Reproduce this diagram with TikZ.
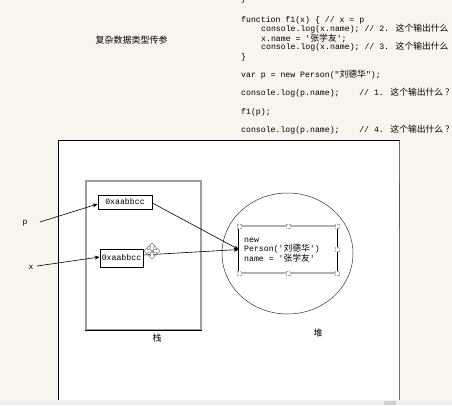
\documentclass[tikz,border=0pt]{standalone}
\usepackage{fontspec}
\usetikzlibrary{arrows.meta,shapes.geometric}
\newfontfamily\codefont{Liberation Mono}
\newfontfamily\cjkfont{Noto Sans CJK SC}
\newcommand{\zhtxt}[1]{{\cjkfont\fontsize{8.8}{9}\selectfont #1}}
\definecolor{bgpaper}{RGB}{247,245,238}
\definecolor{stripgray}{RGB}{240,240,240}
\definecolor{thumbgray}{RGB}{208,208,208}
\definecolor{edgegray}{RGB}{110,110,110}
\tikzset{
  code/.style={anchor=west, inner sep=0pt, font=\codefont\fontsize{8.2}{9}\selectfont},
  zh/.style={inner sep=0pt, font=\cjkfont\fontsize{9}{10}\selectfont},
  lbl/.style={inner sep=0pt, font=\codefont\fontsize{8}{9}\selectfont},
  addr/.style={draw=black, line width=0.7pt, fill=white, inner sep=0pt, font=\codefont\fontsize{8.2}{9}\selectfont},
  conn/.style={line width=0.6pt, -{Stealth[length=5pt,width=4pt]}},
  handle/.style={draw=gray!70, dash pattern=on 1pt off 0.6pt, fill=white, minimum size=4pt, inner sep=0pt, line width=0.4pt},
}
\begin{document}
\begin{tikzpicture}[x=1pt,y=-1pt]
\useasboundingbox (0,0) rectangle (452,405);
\fill[bgpaper] (0,0) rectangle (452,405);
% canvas
\fill[white] (58.5,140.5) rectangle (399.5,400);
\draw[black, line width=1pt] (58.5,400) -- (58.5,140.5) -- (399.5,140.5);
\draw[edgegray, line width=0.9pt] (399.5,140.5) -- (399.5,400);
\draw[edgegray!80!black, line width=1.4pt] (399.5,183) -- (399.5,228);
\fill[stripgray] (0,400) rectangle (452,405);
\fill[thumbgray] (384,400.6) rectangle (396,405);

% code
\node[code] (c0) at (241,-1) {\}};
\node[code] (c1) at (241,20) {function f1(x) \{ // x = p};
\node[code] (c2) at (261,29) {console.log(x.name); // 2. \zhtxt{这个输出什么}};
\node[code] (c3) at (261,38) {x.name = '\zhtxt{张学友}';};
\node[code] (c4) at (261,47) {console.log(x.name); // 3. \zhtxt{这个输出什么}};
\node[code] (c5) at (241,57) {\}};
\node[code] (c6) at (241,75) {var p = new Person("\zhtxt{刘德华}");};
\node[code] (c7) at (241,93) {console.log(p.name);\ \ \ \ // 1. \zhtxt{这个输出什么 ？}};
\node[code] (c8) at (241,112) {f1(p);};
\node[code] (c9) at (241,130) {console.log(p.name);\ \ \ \ // 4. \zhtxt{这个输出什么 ？}};

% title
\node[zh] (title) at (131.5,40) {复杂数据类型传参};

% stack
\node[draw=gray!75, line width=1.1pt, minimum width=115pt, minimum height=149pt, inner sep=0pt] (stack) at (143.5,255.5) {};
\draw[black, line width=1.4pt] (stack.south west) -- (stack.south east);
\node[zh] (stacklbl) at (157,338) {栈};

\node[addr, minimum width=54pt, minimum height=14pt] (box1) at (125,202) {0xaabbcc};
\node[addr, minimum width=43pt, minimum height=18pt] (box2) at (121.5,258) {0xaabbcc};

% heap
\node[ellipse, draw=black!80, line width=0.5pt, minimum width=131pt, minimum height=121pt, inner sep=0pt] (heap) at (287.5,253.5) {};
\node[zh] (heaplbl) at (318,333) {堆};

\node[minimum width=98pt, minimum height=47pt, inner sep=0pt] (obj) at (288,249.5) {};
\draw[gray!60, line width=1.6pt] (obj.north west) -- (obj.north east);
\draw[gray!60, line width=1.6pt] (obj.south west) -- (obj.south east);
\draw[black, line width=0.7pt] (obj.north west) -- (obj.south west);
\draw[black, line width=0.7pt] (obj.north east) -- (obj.south east);
\node[code, align=left] (objtxt) at (244,250) {new\\Person('\zhtxt{刘德华}')\\name = '\zhtxt{张学友}'};

% labels p, x
\node[lbl] (p) at (25,223) {p};
\node[lbl] (x) at (31,267) {x};
\coordinate (pfrom) at (40,222);
\coordinate (xfrom) at (37,266);

% connectors
\draw[conn] (pfrom) -- ([yshift=-2pt]box1.west);
\draw[conn] (xfrom) -- ([yshift=1pt]box2.west);
\draw[conn] ([yshift=-1pt]box1.east) -- (obj.west);
\draw[conn] ([yshift=3pt]box2.east) -- (obj.west);

% handles
\node[handle] (h1) at (obj.north west) {};
\node[handle] (h2) at (obj.north) {};
\node[handle] (h3) at (obj.north east) {};
\node[handle] (h4) at (obj.east) {};
\node[handle] (h5) at (obj.south west) {};
\node[handle] (h6) at (obj.south) {};
\node[handle] (h7) at (obj.south east) {};

% move cursor
\draw[gray, fill=white, line width=0.5pt, shift={(152,251)}]
  (0,-8) -- (3.5,-4.5) -- (1.5,-4.5) -- (1.5,-1.5) -- (4.5,-1.5) -- (4.5,-3.5) -- (8,0)
  -- (4.5,3.5) -- (4.5,1.5) -- (1.5,1.5) -- (1.5,4.5) -- (3.5,4.5) -- (0,8)
  -- (-3.5,4.5) -- (-1.5,4.5) -- (-1.5,1.5) -- (-4.5,1.5) -- (-4.5,3.5) -- (-8,0)
  -- (-4.5,-3.5) -- (-4.5,-1.5) -- (-1.5,-1.5) -- (-1.5,-4.5) -- (-3.5,-4.5) -- cycle;
\fill[gray!80, shift={(152,251)}] (-1.5,-1.5) rectangle (1.5,1.5);
\end{tikzpicture}
\end{document}
